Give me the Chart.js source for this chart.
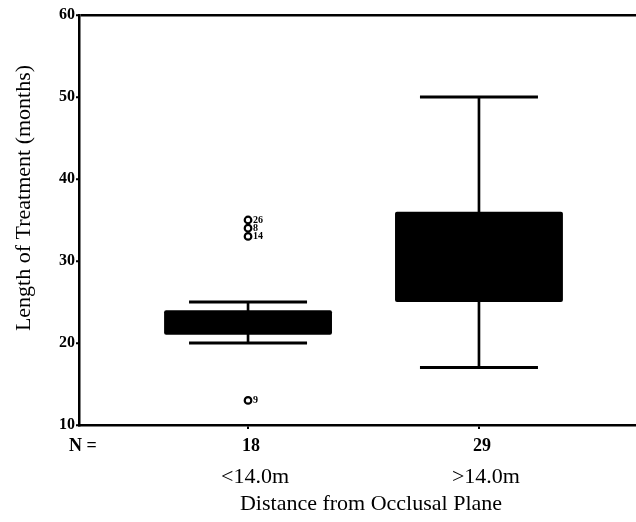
<!DOCTYPE html>
<html>
<head>
<meta charset="utf-8">
<script src="https://cdn.jsdelivr.net/npm/chart.js@4"></script>
<style>
  body { margin: 0; background: #fff; }
  #wrap { width: 636px; height: 522px; }
</style>
</head>
<body>
<div id="wrap"><canvas id="boxChart" width="636" height="522"></canvas></div>
<script>
// group positions, labels and counts
const groupX = [1, 2]
const categories = ['<14.0m', '>14.0m']
const counts = [18, 29]

// box plot values (months)
const whiskerLow = [20, 17]
const q1 = [21, 25]
const q3 = [24, 36]
const whiskerHigh = [25, 50]

// outliers with their case numbers
const outlierX = [1, 1, 1, 1]
const outlierY = [35, 34, 33, 13]
const outlierLabels = ['26', '8', '14', '9']

const yMin = 10
const yMax = 60
const yStep = 10

const xTitle = 'Distance from Occlusal Plane'
const yTitle = 'Length of Treatment (months)'

const serif = '"Liberation Serif", "Times New Roman", serif'

function boxData() {
  return groupX.map((x, i) => ({ x: x, y: [q1[i], q3[i]] }))
}

function stemData() {
  return groupX.map((x, i) => ({ x: x, y: [whiskerLow[i], whiskerHigh[i]] }))
}

function capData() {
  let pts = []
  groupX.forEach((x, i) => {
    pts.push({ x: x, y: whiskerLow[i] })
    pts.push({ x: x, y: whiskerHigh[i] })
  })
  return pts
}

function outlierData() {
  return outlierX.map((x, i) => ({ x: x, y: outlierY[i] }))
}

// writes the N row, category names, axis titles and outlier case numbers
const labelPlugin = {
  id: 'labelPlugin',
  afterDraw(chart) {
    const ctx = chart.ctx
    const xs = chart.scales.x
    const ys = chart.scales.y
    ctx.save()
    ctx.fillStyle = '#000'
    ctx.textBaseline = 'middle'

    ctx.textAlign = 'center'
    ctx.font = 'bold 18px ' + serif
    ctx.fillText('N =', 83, 446)
    groupX.forEach((x, i) => {
      ctx.fillText(String(counts[i]), xs.getPixelForValue(x) + 3, 446)
    })

    ctx.font = '22px ' + serif
    groupX.forEach((x, i) => {
      ctx.fillText(categories[i], xs.getPixelForValue(x) + 7, 477)
    })

    ctx.fillText(xTitle, 371, 504)

    ctx.save()
    ctx.translate(24, 198)
    ctx.rotate(-Math.PI / 2)
    ctx.fillText(yTitle, 0, 0)
    ctx.restore()

    ctx.textAlign = 'left'
    ctx.font = 'bold 10px ' + serif
    outlierX.forEach((x, i) => {
      ctx.fillText(outlierLabels[i], xs.getPixelForValue(x) + 5, ys.getPixelForValue(outlierY[i]))
    })
    ctx.restore()
  }
}

function createBoxChart() {
  const ctx = document.getElementById('boxChart')

  new Chart(ctx, {
    type: 'bar',
    data: {
      datasets: [
        {
          label: 'box',
          data: boxData(),
          backgroundColor: '#000',
          borderWidth: 0,
          borderRadius: 2,
          borderSkipped: false,
          grouped: false,
          barPercentage: 0.727,
          categoryPercentage: 1,
          order: 2
        },
        {
          label: 'whisker',
          data: stemData(),
          backgroundColor: '#000',
          borderWidth: 0,
          grouped: false,
          barThickness: 2,
          order: 3
        },
        {
          type: 'scatter',
          label: 'caps',
          data: capData(),
          pointStyle: 'line',
          pointRadius: 59,
          pointHoverRadius: 59,
          borderColor: '#000',
          borderWidth: 3,
          clip: false,
          order: 1
        },
        {
          type: 'scatter',
          label: 'outliers',
          data: outlierData(),
          pointStyle: 'circle',
          pointRadius: 3.3,
          pointHoverRadius: 3.3,
          borderColor: '#000',
          backgroundColor: '#fff',
          borderWidth: 2.2,
          order: 0
        }
      ]
    },
    options: {
      responsive: false,
      animation: false,
      devicePixelRatio: 1,
      layout: { autoPadding: false, padding: { top: 15, right: 0, bottom: 0, left: 0 } },
      plugins: {
        legend: { display: false },
        tooltip: { enabled: false }
      },
      scales: {
        x: {
          type: 'linear',
          min: 0.268,
          max: 2.68,
          offset: false,
          afterBuildTicks: scale => { scale.ticks = groupX.map(v => ({ value: v })) },
          afterFit: scale => { scale.height = 97 },
          ticks: { display: false },
          grid: {
            offset: false,
            display: true,
            drawOnChartArea: false,
            drawTicks: true,
            tickLength: 4,
            color: '#000',
            lineWidth: 2
          },
          border: { display: true, color: '#000', width: 2.5 }
        },
        y: {
          min: yMin,
          max: yMax,
          afterFit: scale => { scale.width = 79 },
          ticks: {
            stepSize: yStep,
            padding: 1,
            color: '#000',
            font: { family: serif, size: 16, weight: 'bold' }
          },
          grid: {
            display: true,
            drawOnChartArea: true,
            color: c => (c.tick && c.tick.value === yMax ? '#000' : 'rgba(0,0,0,0)'),
            lineWidth: 2.5,
            tickColor: '#000',
            tickLength: 3,
            tickWidth: 2
          },
          border: { display: true, color: '#000', width: 2.5 }
        }
      }
    },
    plugins: [labelPlugin]
  })
}

document.addEventListener('DOMContentLoaded', () => createBoxChart())
</script>
</body>
</html>
